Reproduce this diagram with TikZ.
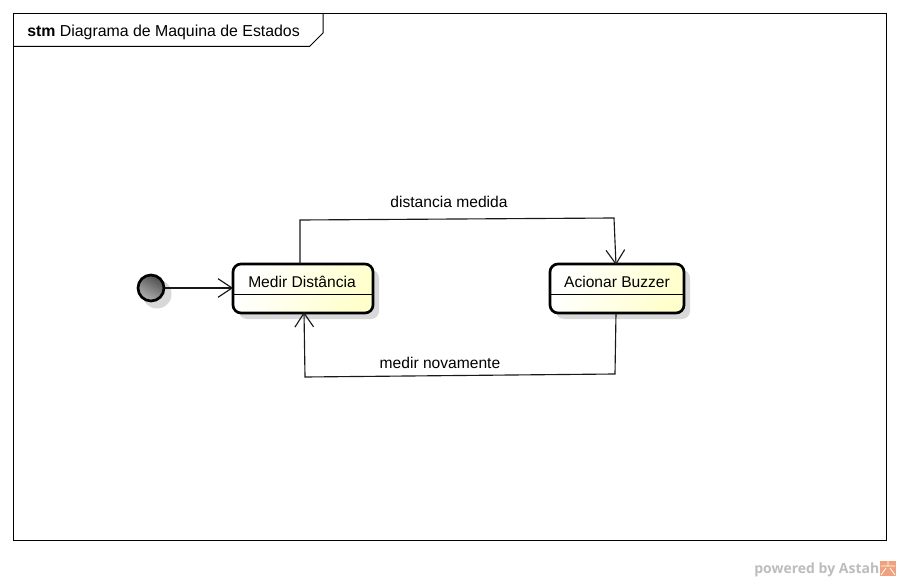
\documentclass[tikz,border=0pt]{standalone}
\usepackage{fontspec}
\setmainfont{Liberation Sans}
\newfontfamily\poweredfont{Open Sans}
\usetikzlibrary{arrows.meta}
\definecolor{statefill}{HTML}{FFFFCC}
\definecolor{shadowgray}{HTML}{D8D8D8}
\definecolor{astahorange}{HTML}{F0A27E}
\definecolor{poweredgray}{HTML}{BDBDBD}
\tikzset{
  x=0.75pt,y=-0.75pt,
  framing/.style={draw=black,line width=0.75pt},
  statebox/.style={draw=black,line width=2pt,rounded corners=6pt,left color=white,right color=statefill,shading angle=65,minimum height=36.75pt,inner sep=0pt},
  stateshadow/.style={fill=shadowgray,rounded corners=6pt,minimum height=36.75pt,inner sep=0pt},
  divider/.style={draw=black,line width=0.75pt},
  titletext/.style={font=\fontsize{11.9pt}{13pt}\selectfont,text=black,inner sep=0pt,anchor=base west},
  statetext/.style={font=\fontsize{11.7pt}{13pt}\selectfont,text=black,inner sep=0pt,anchor=base},
  edgeline/.style={draw=black!90,line width=0.85pt},
  openarrow/.style={-{Straight Barb[length=10.5pt,width=14pt,line width=0.85pt]}},
  edgelabel/.style={font=\fontsize{11.7pt}{13pt}\selectfont,text=black,inner sep=0pt,anchor=base}
}
\begin{document}
\begin{tikzpicture}
\useasboundingbox (0,0) rectangle (900,581);
\fill[white] (0,0) rectangle (900,581);
% frame
\draw[framing] (13.5,13.5) rectangle (886.5,540.5);
\draw[framing] (13.5,46.5) -- (309.5,46.5) -- (323,33) -- (323,13.5);
\node[titletext] (title) at (27,36.5) {\textbf{stm} Diagrama de Maquina de Estados};
% shadows
\fill[shadowgray] (157,294) circle[radius=14.5];
\node[stateshadow,minimum width=105pt] (medirshadow) at (309,294.5) {};
\node[stateshadow,minimum width=100.5pt] (buzzershadow) at (623,294.5) {};
% initial
\node[circle,draw=black,line width=2pt,minimum size=19.5pt,inner sep=0pt,
  top color=black!70,bottom color=black!30,shading angle=-30] (init) at (151,288) {};
% states
\node[statebox,minimum width=105pt] (medir) at (303,288.5) {};
\node[statebox,minimum width=100.5pt] (buzzer) at (617,288.5) {};
\draw[divider] (medir.west |- 0,294) -- (medir.east |- 0,294);
\draw[divider] (buzzer.west |- 0,294) -- (buzzer.east |- 0,294);
\node[statetext] (medirtext) at (302,287.5) {Medir Distância};
\node[statetext] (buzzertext) at (617,287.5) {Acionar Buzzer};
% connector coordinates
\coordinate (a1) at (300,264);
\coordinate (a2) at (300,220);
\coordinate (a3) at (614,218);
\coordinate (a4) at (616,265);
\coordinate (b1) at (616,313);
\coordinate (b2) at (615,374);
\coordinate (b3) at (305,377);
\coordinate (b4) at (304,312);
\draw[edgeline,openarrow,shorten >=-1pt] (init.east) -- (medir.west |- init.east);
\draw[edgeline,openarrow] (a1) -- (a2) -- (a3) -- (a4);
\draw[edgeline,openarrow] (b1) -- (b2) -- (b3) -- (b4);
\node[edgelabel] (lab1) at (449,207.5) {distancia medida};
\node[edgelabel] (lab2) at (440,368.5) {medir novamente};
% footer
\node[font=\fontsize{10.5pt}{12pt}\selectfont\poweredfont\bfseries,text=poweredgray,inner sep=0pt,anchor=base east] (powered) at (879.5,573) {powered by Astah};
\fill[astahorange] (880,561) rectangle (896,576);
\draw[white,line width=0.6pt] (888,561) -- (888,566) (881,566) -- (895,566) (881,575) -- (886,568) (895,575) -- (890,568);
\end{tikzpicture}
\end{document}
